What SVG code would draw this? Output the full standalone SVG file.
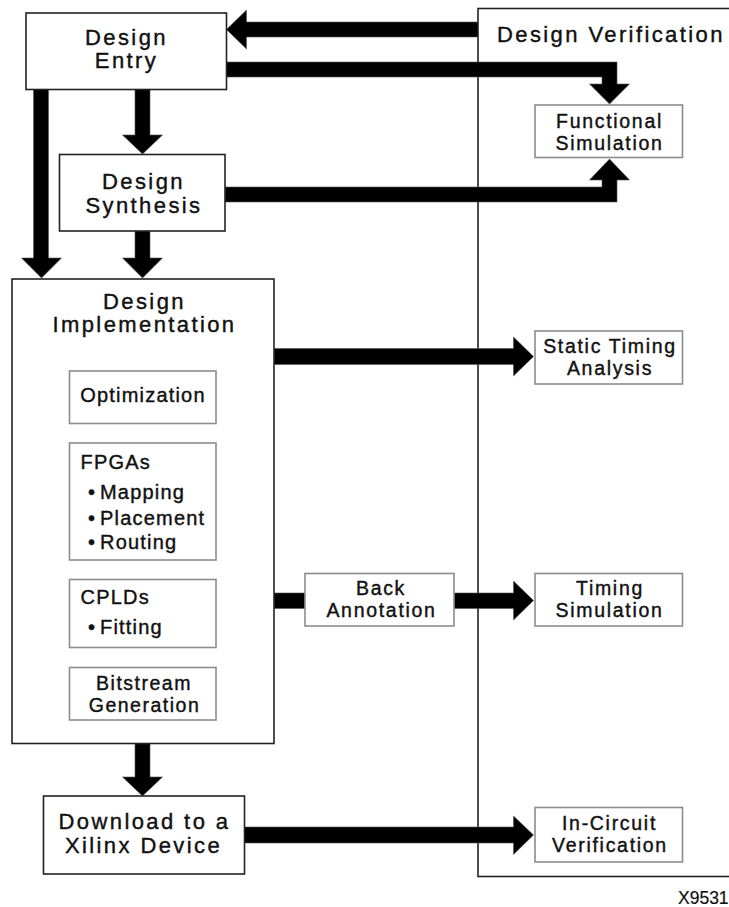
<svg xmlns="http://www.w3.org/2000/svg" width="729" height="907" viewBox="0 0 729 907">
<style>
  .box { fill: #fff; stroke: #222; stroke-width: 1.6; }
  .sub { fill: #fff; stroke: #8c8c8c; stroke-width: 1.6; }
  .frame { fill: none; stroke: #222; stroke-width: 1.6; }
  .arrow { fill: #000; stroke: #555; stroke-width: 0.6; }
  text { font-family: "Liberation Sans", Arial, Helvetica, sans-serif; fill: #111; stroke: #111; stroke-width: 0.4; }
  .tm { font-size: 22px; letter-spacing: 2.4px; text-anchor: middle; }
  .ts { font-size: 19.5px; letter-spacing: 1.7px; text-anchor: middle; }
  .tb { font-size: 20px; letter-spacing: 1.2px; }
  .tbc { font-size: 20px; letter-spacing: 1.2px; text-anchor: middle; }
  .tbs { font-size: 19.5px; letter-spacing: 1.5px; text-anchor: middle; }
</style>

<g id="design-verification">
  <rect class="frame" x="478" y="8.5" width="260" height="868"/>
  <text class="tm" x="497" y="42" style="text-anchor:start">Design Verification</text>
</g>

<g id="connectors">
  <!-- Design Verification -> Design Entry -->
  <path class="arrow" d="M478,22 H246.5 V10 L226.5,29.5 L246.5,49 V37 H478 Z"/>
  <!-- Design Entry -> Functional Simulation -->
  <path class="arrow" d="M226.5,62 H617 V84 H629.5 L609.5,104 L589.5,84 H602 V77 H226.5 Z"/>
  <!-- Design Synthesis -> Functional Simulation -->
  <path class="arrow" d="M225,187 H602 V180 H589.5 L609.5,159 L629.5,180 H617 V202 H225 Z"/>
  <!-- Design Entry -> Design Synthesis -->
  <path class="arrow" d="M135,89.5 V135 H122.5 L142.5,154 L162.5,135 H150 V89.5 Z"/>
  <!-- Design Synthesis -> Design Implementation -->
  <path class="arrow" d="M135,231 V258 H122.5 L142.5,278 L162.5,258 H150 V231 Z"/>
  <!-- Design Entry -> Design Implementation -->
  <path class="arrow" d="M33.5,89.5 V258 H21.5 L41.5,278 L61.5,258 H48.5 V89.5 Z"/>
  <!-- Design Implementation -> Download -->
  <path class="arrow" d="M135,743.5 V777 H122.5 L142.5,796 L162.5,777 H150 V743.5 Z"/>
  <!-- Design Implementation -> Static Timing Analysis -->
  <path class="arrow" d="M274,348.5 H513.5 V337 L533.5,356.5 L513.5,376 V364.5 H274 Z"/>
  <!-- Design Implementation -> Back Annotation -->
  <path class="arrow" d="M274,593 H305 V608.5 H274 Z"/>
  <!-- Back Annotation -> Timing Simulation -->
  <path class="arrow" d="M454,593 H513.5 V581 L533.5,600.5 L513.5,620 V608.5 H454 Z"/>
  <!-- Download -> In-Circuit Verification -->
  <path class="arrow" d="M244.5,827 H513.5 V816 L533.5,835 L513.5,854.5 V843 H244.5 Z"/>
</g>

<g id="design-entry">
  <rect class="box" x="26" y="13" width="200.5" height="76.5"/>
  <text class="tm" x="126.5" y="44.5">Design</text>
  <text class="tm" x="126.5" y="68">Entry</text>
</g>

<g id="design-synthesis">
  <rect class="box" x="59.5" y="154.5" width="165.5" height="76.5"/>
  <text class="tm" x="143.5" y="189">Design</text>
  <text class="tm" x="144" y="213">Synthesis</text>
</g>

<g id="design-implementation">
  <rect class="box" x="12" y="279" width="262" height="464.5"/>
  <text class="tm" x="144.5" y="308.5">Design</text>
  <text class="tm" x="144.5" y="332">Implementation</text>
</g>

<g id="optimization">
  <rect class="sub" x="69.5" y="371" width="146.5" height="52.5"/>
  <text class="tbc" x="143" y="401.5">Optimization</text>
</g>

<g id="fpgas">
  <rect class="sub" x="69.5" y="443" width="146.5" height="117"/>
  <text class="tb" x="80.5" y="468.5">FPGAs</text>
  <text class="tb" x="88" y="499">•<tspan x="100">Mapping</tspan></text>
  <text class="tb" x="88" y="524.5">•<tspan x="100">Placement</tspan></text>
  <text class="tb" x="88" y="548.5">•<tspan x="100">Routing</tspan></text>
</g>

<g id="cplds">
  <rect class="sub" x="69.5" y="579.5" width="146.5" height="68"/>
  <text class="tb" x="80.5" y="604">CPLDs</text>
  <text class="tb" x="88" y="634">•<tspan x="100">Fitting</tspan></text>
</g>

<g id="bitstream-generation">
  <rect class="sub" x="69.5" y="667.5" width="146.5" height="52.5"/>
  <text class="tbs" x="144" y="689.5">Bitstream</text>
  <text class="tbs" x="144.5" y="711.5">Generation</text>
</g>

<g id="download">
  <rect class="box" x="43.5" y="796" width="201" height="78"/>
  <text class="tm" x="144.5" y="828.5">Download to a</text>
  <text class="tm" x="143.5" y="852.5">Xilinx Device</text>
</g>

<g id="functional-simulation">
  <rect class="sub" x="535" y="105" width="147.5" height="52.5"/>
  <text class="ts" x="609.5" y="127.5">Functional</text>
  <text class="ts" x="609.5" y="149.5">Simulation</text>
</g>

<g id="static-timing-analysis">
  <rect class="sub" x="535" y="331" width="147.5" height="53"/>
  <text class="ts" x="610" y="353">Static Timing</text>
  <text class="ts" x="610" y="375">Analysis</text>
</g>

<g id="back-annotation">
  <rect class="sub" x="305" y="573.5" width="149" height="52.5"/>
  <text class="ts" x="381" y="595">Back</text>
  <text class="ts" x="381.5" y="617">Annotation</text>
</g>

<g id="timing-simulation">
  <rect class="sub" x="535" y="573.5" width="147.5" height="52.5"/>
  <text class="ts" x="610" y="595">Timing</text>
  <text class="ts" x="609.5" y="617">Simulation</text>
</g>

<g id="in-circuit-verification">
  <rect class="sub" x="535" y="807.5" width="147.5" height="54.5"/>
  <text class="ts" x="609.5" y="829.5">In-Circuit</text>
  <text class="ts" x="610" y="851.5">Verification</text>
</g>

<text x="678" y="904" style="font-size:17.5px; stroke-width:0.2">X9531</text>
</svg>
